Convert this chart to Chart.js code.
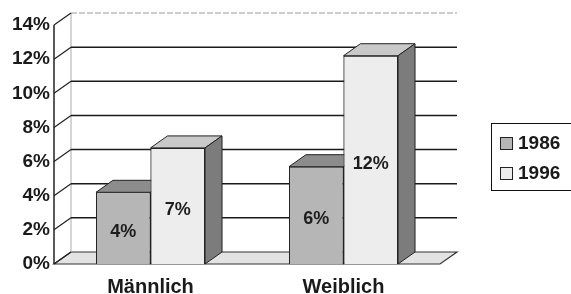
<!DOCTYPE html>
<html>
<head>
<meta charset="utf-8">
<script src="https://cdn.jsdelivr.net/npm/chart.js@4.4.0/dist/chart.umd.min.js"></script>
<style>
  body { margin: 0; background: #fff; }
  #wrap { position: relative; width: 571px; height: 294px; overflow: hidden; }
  #legend {
    position: absolute; left: 491px; top: 123px; width: 95px; height: 66px;
    border: 1.5px solid #111; font: bold 19px "Liberation Sans", Arial, sans-serif; color: #1a1a1a;
  }
  .item { position: absolute; left: 8px; height: 20px; line-height: 20px; }
  .item span.box {
    display: inline-block; width: 11px; height: 11px; border: 1.5px solid #222;
    vertical-align: -1px; margin-right: 5px;
  }
</style>
</head>
<body>
<div id="wrap">
  <canvas id="ctx_chart" width="571" height="294"></canvas>
  <div id="legend"></div>
</div>
<script>
const categories = ['Männlich', 'Weiblich'];
const seriesNames = ['1986', '1996'];
const values1986 = [4.2, 5.7];
const values1996 = [6.8, 12.2];
const yMax = 14;
const yStep = 2;

const frontColors = ['#b6b6b6', '#ededed'];
const topColors = ['#8c8c8c', '#c9c9c9'];
const sideColors = ['#8a8a8a', '#7c7c7c'];

const dx = 17;
const dy = 12;
const FONT = '"Liberation Sans", Arial, sans-serif';

// legend
const legend = document.getElementById('legend');
seriesNames.forEach((name, i) => {
    const d = document.createElement('div');
    d.className = 'item';
    d.style.top = (9 + i * 30) + 'px';
    d.innerHTML = '<span class="box" style="background:' + frontColors[i] + '"></span>' + name;
    legend.appendChild(d);
});

function barFaces(ctx, el, i) {
    const x1 = el.x - el.width / 2;
    const x2 = el.x + el.width / 2;
    const yt = el.y;
    const yb = el.base;
    ctx.strokeStyle = '#222';
    ctx.lineWidth = 1;
    // top
    ctx.beginPath();
    ctx.moveTo(x1, yt);
    ctx.lineTo(x2, yt);
    ctx.lineTo(x2 + dx, yt - dy);
    ctx.lineTo(x1 + dx, yt - dy);
    ctx.closePath();
    ctx.fillStyle = topColors[i];
    ctx.fill();
    ctx.stroke();
    // side
    ctx.beginPath();
    ctx.moveTo(x2, yt);
    ctx.lineTo(x2 + dx, yt - dy);
    ctx.lineTo(x2 + dx, yb - dy);
    ctx.lineTo(x2, yb);
    ctx.closePath();
    ctx.fillStyle = sideColors[i];
    ctx.fill();
    ctx.stroke();
}

const box3d = {
    id: 'box3d',
    beforeDatasetsDraw(chart) {
        const ctx = chart.ctx;
        const a = chart.chartArea;
        const y = chart.scales.y;
        ctx.save();
        // floor
        ctx.beginPath();
        ctx.moveTo(a.left, a.bottom);
        ctx.lineTo(a.right, a.bottom);
        ctx.lineTo(a.right + dx, a.bottom - dy);
        ctx.lineTo(a.left + dx, a.bottom - dy);
        ctx.closePath();
        ctx.fillStyle = '#e3e3e3';
        ctx.fill();
        ctx.strokeStyle = '#333';
        ctx.lineWidth = 1.2;
        ctx.stroke();
        // back wall left edge
        ctx.strokeStyle = '#aaa';
        ctx.lineWidth = 1;
        ctx.beginPath();
        ctx.moveTo(a.left + dx, a.bottom - dy);
        ctx.lineTo(a.left + dx, a.top - dy);
        ctx.stroke();
        // grid on back wall + diagonals
        y.ticks.forEach(t => {
            const py = y.getPixelForValue(t.value);
            if (t.value > 0 && t.value < yMax) {
                ctx.strokeStyle = '#1a1a1a';
                ctx.lineWidth = 1.5;
                ctx.beginPath();
                ctx.moveTo(a.left + dx, py - dy);
                ctx.lineTo(a.right + dx, py - dy);
                ctx.stroke();
            } else if (t.value === yMax) {
                ctx.strokeStyle = '#999';
                ctx.lineWidth = 1;
                ctx.setLineDash([6, 2]);
                ctx.beginPath();
                ctx.moveTo(a.left + dx, py - dy);
                ctx.lineTo(a.right + dx, py - dy);
                ctx.stroke();
                ctx.setLineDash([]);
            }
            ctx.strokeStyle = '#222';
            ctx.lineWidth = 1.2;
            ctx.beginPath();
            ctx.moveTo(a.left, py);
            ctx.lineTo(a.left + dx, py - dy);
            ctx.stroke();
        });
        // front axis
        ctx.strokeStyle = '#222';
        ctx.lineWidth = 1.5;
        ctx.beginPath();
        ctx.moveTo(a.left, a.top);
        ctx.lineTo(a.left, a.bottom);
        ctx.stroke();
        ctx.restore();
    },
    afterDatasetsDraw(chart) {
        const ctx = chart.ctx;
        const m0 = chart.getDatasetMeta(0);
        const m1 = chart.getDatasetMeta(1);
        ctx.save();
        m0.data.forEach(el => barFaces(ctx, el, 0));
        m1.data.forEach(el => el.draw(ctx));
        m1.data.forEach(el => barFaces(ctx, el, 1));
        // value labels
        ctx.font = 'bold 18px ' + FONT;
        ctx.fillStyle = '#1e1e1e';
        ctx.textAlign = 'center';
        ctx.textBaseline = 'middle';
        [m0, m1].forEach((m, di) => {
            const vals = di === 0 ? values1986 : values1996;
            m.data.forEach((el, j) => {
                ctx.fillText(Math.round(vals[j]) + '%', el.x, (el.y + el.base) / 2 + 4);
            });
        });
        ctx.restore();
    }
};

new Chart(document.getElementById('ctx_chart'), {
    type: 'bar',
    data: {
        labels: categories,
        datasets: [{
            label: seriesNames[0],
            data: values1986,
            backgroundColor: frontColors[0],
            borderColor: '#222',
            borderWidth: 1,
            barPercentage: 1,
            categoryPercentage: 0.565
        },
        {
            label: seriesNames[1],
            data: values1996,
            backgroundColor: frontColors[1],
            borderColor: '#222',
            borderWidth: 1,
            barPercentage: 1,
            categoryPercentage: 0.565
        }]
    },
    options: {
        responsive: false,
        animation: false,
        layout: {
            padding: { left: 0, right: 131, top: 25, bottom: 0 }
        },
        scales: {
            x: {
                grid: { display: false, drawTicks: false },
                border: { display: false },
                ticks: {
                    color: '#1a1a1a',
                    padding: 11,
                    font: { family: FONT, size: 20, weight: 'bold' }
                },
                afterFit(s) { s.height = 30; }
            },
            y: {
                min: 0,
                max: yMax,
                grid: { display: false, drawTicks: false },
                border: { display: false },
                ticks: {
                    stepSize: yStep,
                    color: '#1a1a1a',
                    padding: 4,
                    font: { family: FONT, size: 19, weight: 'bold' },
                    callback: v => v + '%'
                },
                afterFit(s) { s.width = 54; }
            }
        },
        plugins: {
            legend: { display: false },
            tooltip: { enabled: false }
        }
    },
    plugins: [box3d]
});
</script>
</body>
</html>
